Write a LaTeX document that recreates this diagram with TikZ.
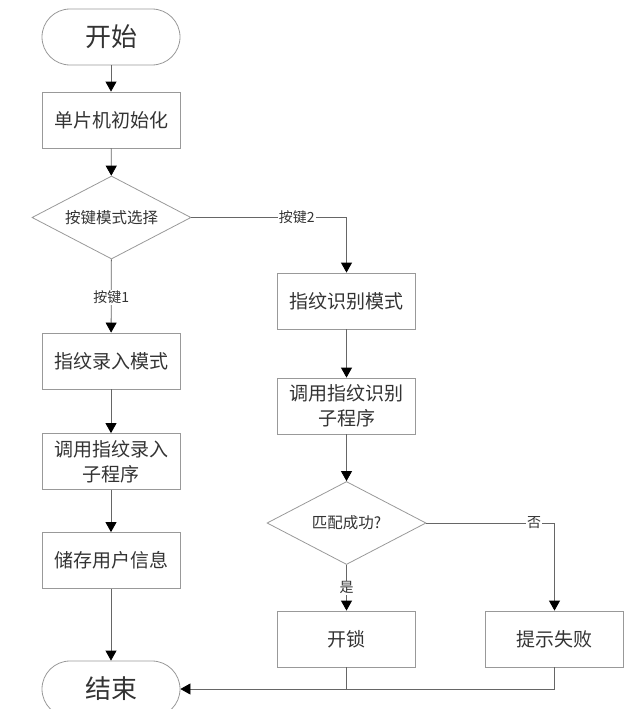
\documentclass[tikz,border=0pt]{standalone}
\usepackage{fontspec}
\newfontfamily\cjk{Noto Sans CJK SC}
\usetikzlibrary{shapes.geometric,arrows.meta}
\begin{document}
\begin{tikzpicture}[x=1pt,y=-1pt,
  box/.style={draw=black!40,line width=0.8pt,minimum width=138pt,minimum height=56pt,inner sep=2pt,align=center,text=black!80,font=\cjk\fontsize{19}{25}\selectfont},
  term/.style={box,rounded corners=28pt,font=\cjk\fontsize{26}{30}\selectfont},
  dec/.style={draw=black!40,line width=0.8pt,diamond,aspect=1.92,minimum width=159pt,minimum height=83pt,inner sep=0pt,text=black!80,font=\cjk\fontsize{15.5}{18}\selectfont},
  lab/.style={fill=white,inner sep=1pt,text=black!80,font=\cjk\fontsize{14}{16}\selectfont},
  arr/.style={draw=black!60,line width=0.8pt,-{Triangle[length=10pt,width=11pt,color=black,fill=black]}},
  ln/.style={draw=black!60,line width=0.8pt}]
\useasboundingbox (0,0) rectangle (643,709);
\clip (0,0) rectangle (643,709);
\node[term] (start) at (111,37) {开始};
\node[box] (init) at (111,120) {单片机初始化};
\node[dec] (d1) at (111.5,217.5) {按键模式选择};
\node[box] (enroll) at (111,361) {指纹录入模式};
\node[box] (callenroll) at (111,461.5) {调用指纹录入\\子程序};
\node[box] (store) at (111,560.5) {储存用户信息};
\node[term] (end) at (111,689) {结束};
\node[box] (recog) at (346.5,301) {指纹识别模式};
\node[box] (callrecog) at (346.5,406) {调用指纹识别\\子程序};
\node[dec] (d2) at (346.5,523) {匹配成功?};
\node[box] (unlock) at (346.5,639) {开锁};
\node[box] (fail) at (554.5,639) {提示失败};
\draw[arr] (start) -- (init);
\draw[arr] (init) -- (d1);
\draw[arr] (d1) -- node[lab,pos=0.52] {按键1} (enroll);
\draw[arr] (d1.east) -| node[lab,pos=0.34] {按键2} (recog.north);
\draw[arr] (enroll) -- (callenroll);
\draw[arr] (callenroll) -- (store);
\draw[arr] (store) -- (end);
\draw[arr] (recog) -- (callrecog);
\draw[arr] (callrecog) -- (d2);
\draw[arr] (d2) -- node[lab,pos=0.5] {是} (unlock);
\draw[arr] (d2.east) -| node[lab,pos=0.42] {否} (fail.north);
\coordinate (j) at (unlock.south |- end.east);
\draw[ln] (unlock.south) -- (j);
\draw[arr] (fail.south) |- (end.east);
\end{tikzpicture}
\end{document}
